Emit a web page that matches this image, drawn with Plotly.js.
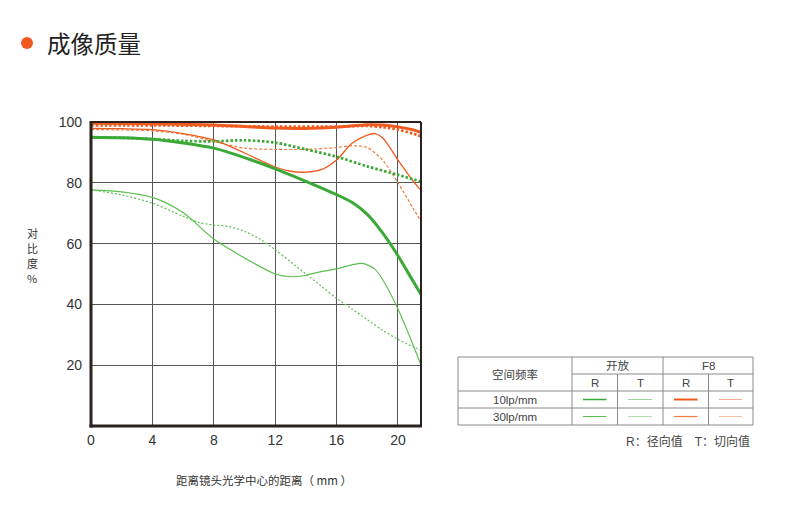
<!DOCTYPE html>
<html><head><meta charset="utf-8">
<script src="https://cdn.plot.ly/plotly-3.0.1.min.js"></script>
<style>html,body{margin:0;padding:0;background:#fff;}#chart{width:790px;height:531px;}</style>
</head><body><div id="chart"></div>
<script>
// ---- data ----
const g10R_x = [0,2,4,6,8,10,12,14,16,17,18,19,20,21,21.5];
const g10R_y = [95,94.8,94.3,93.1,91.4,88.3,84.6,80.5,76.1,73.6,69.6,63.5,56,47.5,43.3];
const g10T_x = [0,2,4,6,8,10,12,14,16,18,20,21.5];
const g10T_y = [95,94.8,94.4,93.8,93.6,94,93.2,91,88.6,85.4,82.6,80.4];
const o10R_x = [0,4,8,10,12,14,16,18,19,20,21,21.5];
const o10R_y = [99.6,99.4,99,98.5,98,97.9,98.3,99.1,99,98.4,97.4,96.6];
const o10T_x = [0,4,8,12,16,18,19,20,21,21.5];
const o10T_y = [98.9,98.9,98.7,98.5,98.5,98.7,98.3,97.5,96.1,95.3];
const o30R_x = [0,2,4,6,8,10,12,13,14,15,16,17,18,18.5,19,20,21,21.5];
const o30R_y = [97.9,97.8,97.5,96.2,94.1,89.8,85.2,83.8,83.5,84.3,87.5,93,95.7,96.2,94.8,87.5,80.5,77.5];
const o30T_x = [0,2,4,6,8,10,12,14,16,17,18,19,20,21,21.5];
const o30T_y = [97.5,97.4,97.1,96,93.6,91.4,91,91,91.6,92.2,91.6,87.5,80,71.5,67.3];
const g30R_x = [0,2,4,6,8,10,12,13,14,15,16,17,17.7,18.5,19,20,21,21.5];
const g30R_y = [77.7,77,75.2,70.2,61.5,55.3,50,49.1,49.6,50.8,51.7,53,53.5,51.6,48.2,38.5,26.5,20];
const g30T_x = [0,2,4,6,7,8,9,10,11,12,13,14,15,16,17,18,19,20,21,21.5];
const g30T_y = [77.7,76,73.3,69,67,66.1,65.6,64,61.5,58,54,50,46,42,38.5,35,31.5,28.5,26,25];
const xTicks = [0,4,8,12,16,20];
const yTicks = [20,40,60,80,100];
const titleText = '成像质量';
const xTitle = '距离镜头光学中心的距离（ mm ）';
const yTitle = ['对','比','度','%'];
const tblHead = ['空间频率','开放','F8','R','T','R','T'];
const tblRows = ['10lp/mm','30lp/mm'];
const footNote = 'R：径向值　T：切向值';

// ---- styles ----
const GD = '#3aa936', GL = '#5cc04f', OD = '#f05a1e', OL = '#f37a40';
const W = 790, H = 531;
const FONT = 'Liberation Sans, Arial, Noto Sans CJK SC, sans-serif';
const px = v => v / W, py = v => 1 - v / H;

function tr(x, y, color, width, dash) {
  return {x, y, type: 'scatter', mode: 'lines', line: {color, width, dash, shape: 'spline', smoothing: 0.8}, hoverinfo: 'skip', showlegend: false};
}
const data = [
  tr(g30T_x, g30T_y, GL, 1.2, '2px,2px'),
  tr(g30R_x, g30R_y, GL, 1.2, 'solid'),
  tr(o30T_x, o30T_y, OL, 1.2, '3px,2px'),
  tr(o30R_x, o30R_y, OD, 1.3, 'solid'),
  tr(g10T_x, g10T_y, GD, 2.7, '2.5px,2px'),
  tr(g10R_x, g10R_y, GD, 3, 'solid'),
  tr(o10T_x, o10T_y, OD, 2.7, '2.5px,2px'),
  tr(o10R_x, o10R_y, OD, 3, 'solid')
];

const shapes = [];
const annotations = [];
// frame
const L = 91, R = 421, T = 122, B = 426;
const FR = '#2b2220';
shapes.push({type:'line', xref:'paper', yref:'paper', x0:px(L), x1:px(R), y0:py(T), y1:py(T), line:{color:FR, width:2}});
shapes.push({type:'line', xref:'paper', yref:'paper', x0:px(R), x1:px(R), y0:py(T), y1:py(B), line:{color:FR, width:2}});
shapes.push({type:'line', xref:'paper', yref:'paper', x0:px(L), x1:px(L), y0:py(T-1), y1:py(B+1.5), line:{color:FR, width:3}});
shapes.push({type:'line', xref:'paper', yref:'paper', x0:px(L-1.5), x1:px(R+1), y0:py(B), y1:py(B), line:{color:FR, width:3}});
// title dot
shapes.push({type:'circle', xref:'paper', yref:'paper', x0:px(21), x1:px(33), y0:py(37), y1:py(49), fillcolor:'#f05a22', line:{width:0}});
annotations.push({text:titleText, xref:'paper', yref:'paper', x:px(45), y:py(43), xanchor:'left', yanchor:'middle', showarrow:false, font:{family:'Noto Sans CJK SC', size:23.5, color:'#222'}});
// axis titles
const yTitleY = [233, 248, 263, 278];
yTitle.forEach((c, i) => annotations.push({text:c, xref:'paper', yref:'paper', x:px(32), y:py(yTitleY[i]), xanchor:'center', yanchor:'middle', height:12, showarrow:false, font:{family:'Noto Sans CJK SC', size:11, color:'#333'}}));
annotations.push({text:xTitle, xref:'paper', yref:'paper', x:px(264), y:py(480), xanchor:'center', yanchor:'middle', showarrow:false, font:{family:'Noto Sans CJK SC', size:11.5, color:'#333'}});

// table
const TL = 458, TR = 753, TT = 357, TB = 425;
const C1 = 572, C2 = 617.5, C3 = 663, C4 = 708.5;
const RH1 = 374, RH2 = 391, RH3 = 408;
const TC = '#8a8a8a';
function ln(x0,y0,x1,y1){shapes.push({type:'line', xref:'paper', yref:'paper', x0:px(x0), x1:px(x1), y0:py(y0), y1:py(y1), line:{color:TC, width:1}});}
ln(TL,TT,TR,TT); ln(TL,TB,TR,TB); ln(TL,TT,TL,TB); ln(TR,TT,TR,TB);
ln(C1,TT,C1,TB); ln(C3,TT,C3,TB); ln(C2,RH1,C2,TB); ln(C4,RH1,C4,TB);
ln(C1,RH1,TR,RH1); ln(TL,RH2,TR,RH2); ln(TL,RH3,TR,RH3);
function txt(t, x, y, anchor, size){annotations.push({text:t, xref:'paper', yref:'paper', x:px(x), y:py(y), xanchor:anchor||'center', yanchor:'middle', showarrow:false, font:{family:FONT, size:size||11.5, color:'#444'}});}
txt(tblHead[0], (TL+C1)/2, (TT+RH2)/2);
txt(tblHead[1], (C1+C3)/2, (TT+RH1)/2);
txt(tblHead[2], (C3+TR)/2, (TT+RH1)/2);
txt(tblHead[3], (C1+C2)/2, (RH1+RH2)/2);
txt(tblHead[4], (C2+C3)/2, (RH1+RH2)/2);
txt(tblHead[5], (C3+C4)/2, (RH1+RH2)/2);
txt(tblHead[6], (C4+TR)/2, (RH1+RH2)/2);
txt(tblRows[0], (TL+C1)/2, (RH2+RH3)/2);
txt(tblRows[1], (TL+C1)/2, (RH3+TB)/2);
txt(footNote, 752, 441, 'right', 12);
// swatches
function sw(c0, c1, y, color, width, dash){shapes.push({type:'line', xref:'paper', yref:'paper', x0:px(c0+11), x1:px(c1-11), y0:py(y), y1:py(y), line:{color, width, dash}});}
const y1r = (RH2+RH3)/2, y2r = (RH3+TB)/2;
sw(C1,C2,y1r,GD,1.5,'solid'); sw(C2,C3,y1r,GD,1.2,'1px,1px'); sw(C3,C4,y1r,OD,2,'solid'); sw(C4,TR,y1r,OD,1.2,'1px,1px');
sw(C1,C2,y2r,GL,1,'solid'); sw(C2,C3,y2r,GL,1,'1px,1px'); sw(C3,C4,y2r,OL,1.2,'solid'); sw(C4,TR,y2r,OL,1,'1px,1px');

const layout = {
  width: W, height: H,
  margin: {l:0, r:0, t:0, b:0},
  paper_bgcolor: '#fff', plot_bgcolor: '#fff',
  xaxis: {domain:[px(L), px(R)], range:[0, 21.5], tickvals:xTicks, ticktext:xTicks.map(String), showgrid:true, gridcolor:'#555', gridwidth:1, zeroline:false, showline:false, ticks:'', ticklabelstandoff:4, tickfont:{family:FONT, size:14, color:'#333'}, fixedrange:true},
  yaxis: {domain:[py(B), py(T)], range:[0, 100], tickvals:yTicks, ticktext:yTicks.map(String), showgrid:true, gridcolor:'#555', gridwidth:1, zeroline:false, showline:false, ticks:'', ticklabelstandoff:8, tickfont:{family:FONT, size:14, color:'#333'}, fixedrange:true},
  shapes, annotations
};
Plotly.newPlot('chart', data, layout, {staticPlot:true, displayModeBar:false});
</script></body></html>
